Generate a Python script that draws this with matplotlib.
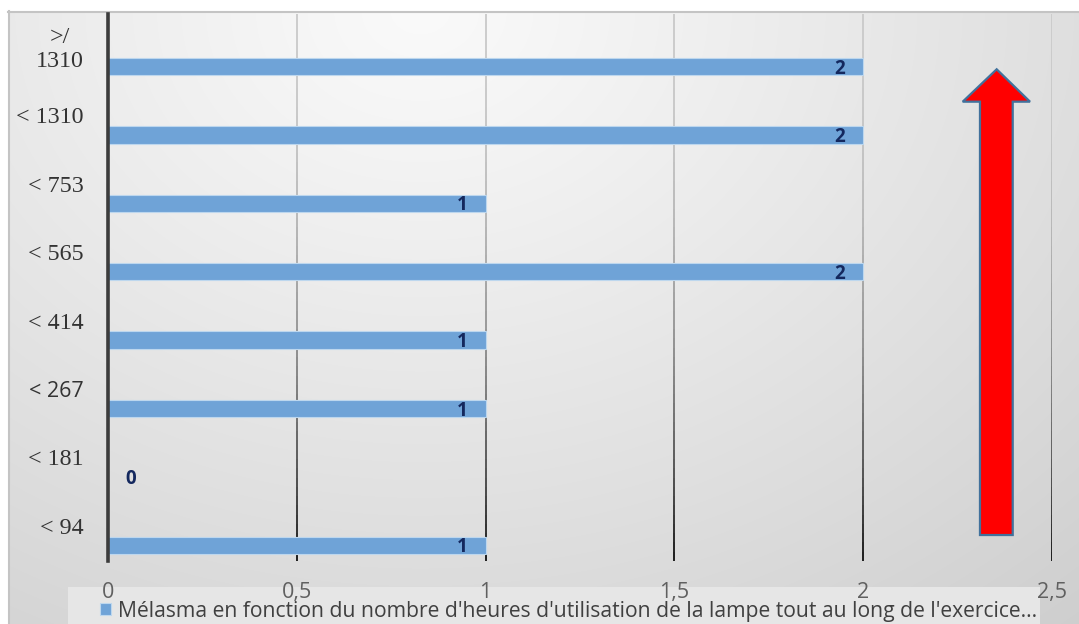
import numpy as np
import matplotlib
matplotlib.use("Agg")
import matplotlib.pyplot as plt
from matplotlib.patches import Rectangle, Polygon
from matplotlib.collections import LineCollection

# ---------------- data ----------------
categories = ["< 94", "< 181", "< 267", "< 414", "< 565", "< 753", "< 1310", ">/\n1310"]
values = [1, 0, 1, 1, 2, 1, 2, 2]
xticks = [0, 0.5, 1, 1.5, 2, 2.5]
xtick_labels = ["0", "0,5", "1", "1,5", "2", "2,5"]
series_label = ("Mélasma en fonction du nombre d'heures d'utilisation "
                "de la lampe tout au long de l'exercice...")

W, H = 1079, 624
fig = plt.figure(figsize=(W / 100, H / 100), dpi=100)

# ---------------- background ----------------
bg = fig.add_axes([0, 0, 1, 1], zorder=-10)
bg.set_xlim(0, W)
bg.set_ylim(H, 0)
bg.axis("off")
yy, xx = np.mgrid[0:H, 0:W]
d = np.sqrt(((xx - 420) / 900.0) ** 2 + ((yy - 10) / 720.0) ** 2)
v = 0.98 - 0.15 * np.clip(d, 0, 1.3) ** 1.1
img = np.dstack([v, v, v])
bg.imshow(img, extent=(0, W, H, 0), aspect="auto", interpolation="bilinear")
bg.add_patch(Rectangle((0, 0), 8, H, facecolor="white", edgecolor="none"))
bg.add_patch(Rectangle((0, 0), W, 11, facecolor="white", edgecolor="none"))
bg.plot([8.5, 8.5], [11, H], color="#c4c4c4", lw=1.5)
bg.plot([8, W], [11.5, 11.5], color="#c4c4c4", lw=1.5)
# legend box
bg.add_patch(Rectangle((68, 587), 1040 - 68, H - 587, facecolor="#e6e6e6",
                       edgecolor="none"))

# ---------------- main axes ----------------
ax = fig.add_axes([108 / W, 63 / H, 944 / W, 547 / H])
ax.set_facecolor("none")
y = np.arange(len(categories))
bars = ax.barh(y, values, height=0.253, color="#6FA3D7", edgecolor="#BDD7EE",
               linewidth=0.8, zorder=3, label=series_label)
ax.set_xlim(0, 2.5)
ax.set_ylim(-0.23, 7.77)

# gradient vertical gridlines at x ticks
t = np.linspace(0, 1, 60)
for xv in xticks[1:]:
    segs = [[(xv, 1 - t[i]), (xv, 1 - t[i + 1])] for i in range(len(t) - 1)]
    cols = []
    for i in range(len(t) - 1):
        tm = 0.5 * (t[i] + t[i + 1])
        g = 0.80 - 0.70 * tm ** 2.2
        cols.append((g, g, g))
    lc = LineCollection(segs, colors=cols, linewidths=1.4, zorder=1,
                        transform=ax.get_xaxis_transform())
    ax.add_collection(lc)

for s in ["top", "right", "bottom"]:
    ax.spines[s].set_visible(False)
ax.spines["left"].set_color("#3c3c3c")
ax.spines["left"].set_linewidth(2.6)
ax.spines["left"].set_zorder(5)

ax.set_xticks(xticks)
ax.set_xticklabels(xtick_labels, fontfamily="Open Sans", fontsize=15.5,
                   color="#606060")
ax.tick_params(axis="x", length=0, pad=15)

ax.set_yticks(y + 0.25)
ax.set_yticklabels(["" for _ in categories])
ax.tick_params(axis="y", length=0)
for i, cat in enumerate(categories):
    if cat == "< 267":
        fam, fs = "Open Sans", 15.5
    else:
        fam, fs = "Liberation Serif", 17.3
    ax.annotate(cat, (0, y[i] + 0.25), xytext=(-24, 0), textcoords="offset pixels",
                xycoords=("axes fraction", "data"), ha="right", va="center",
                multialignment="center", fontfamily=fam, fontsize=fs,
                color="#333333", linespacing=1.15, annotation_clip=False)

# value labels
for yi, val in zip(y, values):
    if val > 0:
        ax.annotate(str(val), (val, yi), xytext=(-18, -2), textcoords="offset pixels",
                    ha="right", va="center", fontfamily="Open Sans",
                    fontweight="bold", fontsize=13.5, color="#14285e", zorder=6)
    else:
        ax.annotate(str(val), (val, yi), xytext=(17, -2), textcoords="offset pixels",
                    ha="left", va="center", fontfamily="Open Sans",
                    fontweight="bold", fontsize=13.5, color="#14285e", zorder=6)

# decorative red arrow (axes-fraction coordinates)
arrow_pts = [(0.9237, 0.0475), (0.9584, 0.0475), (0.9584, 0.8397),
             (0.9767, 0.8397), (0.9414, 0.8989), (0.9054, 0.8397),
             (0.9237, 0.8397)]
ax.add_patch(Polygon(arrow_pts, closed=True, facecolor="#ff0000",
                     edgecolor="#41719c", linewidth=1.6, zorder=4,
                     transform=ax.transAxes))

# legend
leg = fig.legend(handles=[bars], labels=[series_label], loc="center left",
                 bbox_to_anchor=(100 / W, (H - 611) / H), frameon=False,
                 prop={"family": "Open Sans", "size": 15.2},
                 handlelength=0.5, handleheight=0.5, handletextpad=0.35,
                 borderpad=0, borderaxespad=0, labelcolor="#404040")

fig.savefig("out.png", dpi=100)
